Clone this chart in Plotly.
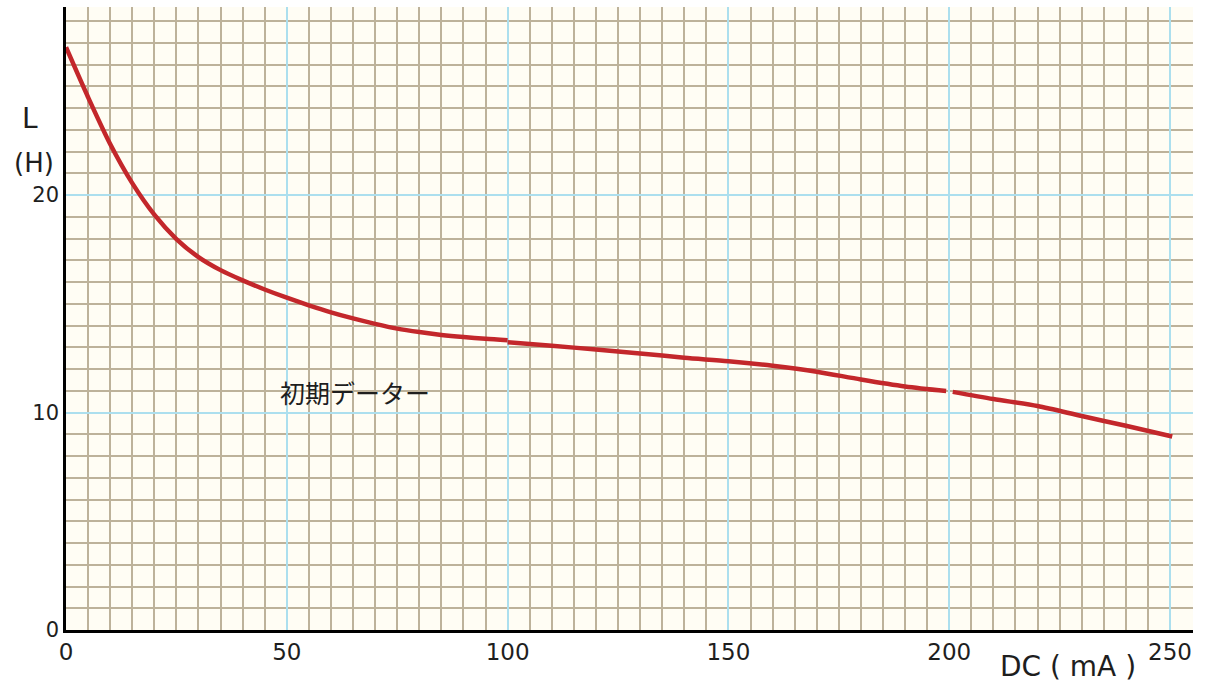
import plotly.graph_objects as go

# ---- data ----
seg1_x = [0, 5, 10, 15, 20, 25, 30, 35, 40, 45, 50, 55, 60, 65, 70, 75, 80, 85, 90, 95, 100]
seg1_y = [26.8, 24.5, 22.35, 20.55, 19.1, 17.98, 17.15, 16.55, 16.08, 15.66, 15.28, 14.93, 14.61,
          14.33, 14.08, 13.86, 13.7, 13.57, 13.47, 13.39, 13.33]
seg2_x = [100, 110, 120, 130, 140, 150, 160, 170, 180, 190, 199.3]
seg2_y = [13.23, 13.07, 12.9, 12.72, 12.52, 12.36, 12.15, 11.88, 11.52, 11.2, 10.99]
seg3_x = [200.8, 210, 220, 230, 240, 250.5]
seg3_y = [10.95, 10.62, 10.3, 9.84, 9.39, 8.9]

x_ticks = [0, 50, 100, 150, 200, 250]
y_ticks = [0, 10, 20]
series_label = "初期データー"
x_title = "DC ( mA )"
y_title_1 = "L"
y_title_2 = "(H)"

W, H = 1205, 686
L, R, T, B = 66, 12, 7, 56
pw, ph = W - L - R, H - T - B

def px(xp):
    return (xp - L) / pw

def py(yp):
    return (H - B - yp) / ph

LINE = "#c3272b"
GRID = "#bdb29a"
BLUE = "#acdfee"
FONT = "DejaVu Sans"
TXT = "#1e1e1e"

fig = go.Figure()
for sx, sy in [(seg1_x, seg1_y), (seg2_x, seg2_y), (seg3_x, seg3_y)]:
    fig.add_trace(go.Scatter(x=sx, y=sy, mode="lines",
                             line=dict(color=LINE, width=4.5, shape="spline", smoothing=0.8),
                             showlegend=False, hoverinfo="skip"))

fig.update_layout(
    width=W, height=H,
    margin=dict(l=L, r=R, t=T, b=B),
    paper_bgcolor="white",
    plot_bgcolor="#fffdf4",
    font=dict(family=FONT, color=TXT),
    xaxis=dict(range=[0, 255.2], tickvals=x_ticks, showgrid=True, gridcolor=BLUE, gridwidth=2,
               minor=dict(dtick=5, tick0=0, showgrid=True, gridcolor=GRID, gridwidth=1.5),
               showline=True, linecolor="black", linewidth=2.5, zeroline=False,
               ticks="", tickfont=dict(size=23, family=FONT, color=TXT)),
    yaxis=dict(range=[0, 28.65], tickvals=y_ticks, showgrid=True, gridcolor=BLUE, gridwidth=2,
               minor=dict(dtick=1, tick0=0, showgrid=True, gridcolor=GRID, gridwidth=1.5),
               showline=True, linecolor="black", linewidth=2.5, zeroline=False,
               ticks="", tickfont=dict(size=21, family=FONT, color=TXT)),
)

ann = [
    dict(text=y_title_1, x=px(30), y=py(118), size=28),
    dict(text=y_title_2, x=px(34), y=py(163), size=26),
    dict(text=x_title, x=px(1068), y=py(666), size=28),
]
for a in ann:
    fig.add_annotation(text=a["text"], x=a["x"], y=a["y"], xref="paper", yref="paper",
                       showarrow=False, xanchor="center", yanchor="middle",
                       font=dict(size=a["size"], family=FONT, color=TXT))

fig.add_annotation(text=series_label, x=65.4, y=10.94, xref="x", yref="y", showarrow=False,
                   xanchor="center", yanchor="middle",
                   font=dict(size=25, family="Noto Sans CJK JP", color=TXT))

fig.write_html("out.html", config={"displayModeBar": False},
               post_script="document.body.style.margin='0';document.body.style.overflow='hidden';")
